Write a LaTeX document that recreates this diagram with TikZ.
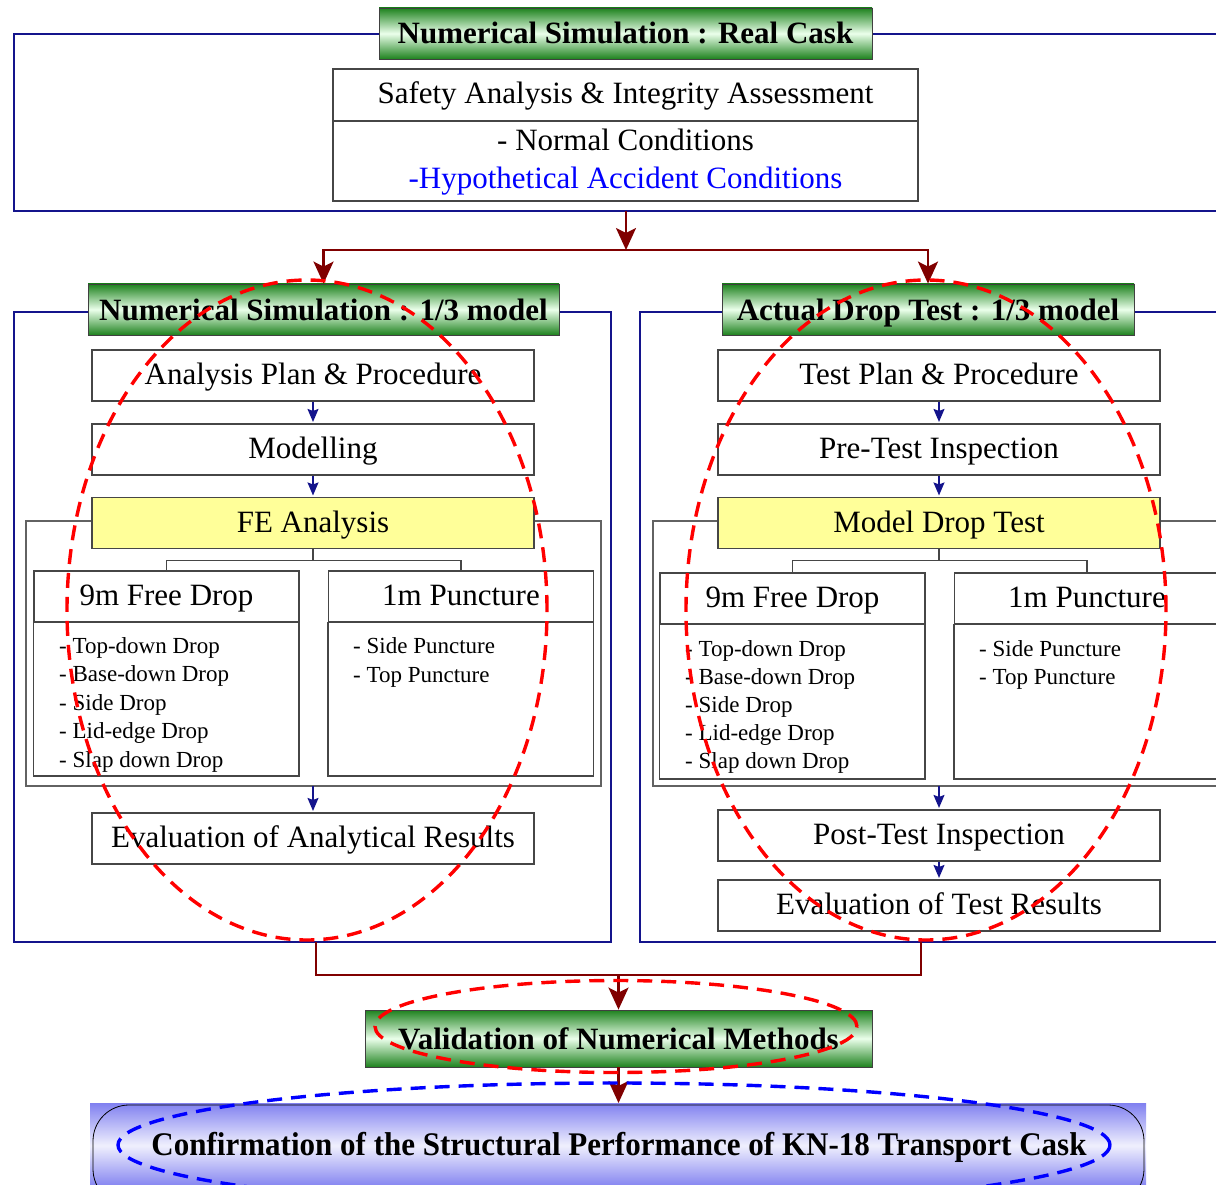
\documentclass[tikz,border=0pt]{standalone}
\usepackage{fontspec}
\usepackage{graphicx}
\setmainfont{Liberation Serif}
\usetikzlibrary{arrows.meta}
\definecolor{navy}{RGB}{20,20,140}
\definecolor{dred}{RGB}{128,0,0}
\definecolor{boxgray}{RGB}{70,70,70}
\definecolor{lyellow}{RGB}{255,255,153}
\definecolor{tgreen}{RGB}{30,130,30}
\definecolor{hblue}{RGB}{0,0,255}
\definecolor{bblue}{RGB}{128,128,240}
\definecolor{ered}{RGB}{255,0,0}
\definecolor{eblue}{RGB}{0,0,255}
\begin{document}
\begin{tikzpicture}[x=1pt,y=-1pt,
  frame/.style={draw=navy, line width=1.8pt},
  gtitle/.style={draw=black!75, line width=0.8pt, top color=tgreen, bottom color=tgreen, middle color=white!92!green,
     font=\bfseries\fontsize{31}{36}\selectfont, inner sep=0pt, minimum height=51pt, text height=21pt, text depth=0pt},
  gbox/.style={draw=boxgray, line width=1.1pt, fill=white, inner sep=0pt, minimum width=442pt, minimum height=51pt,
     font=\fontsize{31}{36}\selectfont, text height=21pt, text depth=3pt},
  ybox/.style={gbox, fill=lyellow},
  hbox/.style={gbox, minimum width=265pt},
  listbox/.style={draw=boxgray, line width=1.1pt, fill=white},
  cont/.style={draw=boxgray!85, line width=1.1pt},
  txt/.style={inner sep=0pt, font=\fontsize{31}{36}\selectfont},
  item/.style={anchor=base west, inner sep=0pt, font=\fontsize{23}{28}\selectfont},
  rline/.style={draw=dred, line width=2.6pt},
  rarrow/.style={rline, -{Stealth[length=22pt,width=20pt,inset=5pt]}},
  barrow/.style={draw=navy, line width=1.5pt, -{Stealth[length=13pt,width=11pt,inset=2pt]}, shorten >=1.5pt},
  tline/.style={draw=boxgray, line width=1.1pt},
  rdash/.style={draw=ered, line width=3.4pt, dash pattern=on 15pt off 9pt},
  bdash/.style={draw=eblue, line width=3.4pt, dash pattern=on 15pt off 9pt}
]
\useasboundingbox (0,0) rectangle (1216,1185);
\clip (0,0) rectangle (1216,1185);

% ---------- top section ----------
\draw[frame] (14,34) rectangle (1240,211);
\node[gtitle, minimum width=493pt] (ttitle) at (625.5,33.5) {Numerical Simulation : Real Cask};
\node[gbox, minimum width=585pt, minimum height=52pt] (safety) at (625.5,95) {Safety Analysis \& Integrity Assessment};
\node[listbox, inner sep=0pt, minimum width=585pt, minimum height=80pt] (cond) at (625.5,161) {};
\node[txt, anchor=base] (normal) at (625.5,151) {- Normal Conditions};
\node[txt, anchor=base, text=hblue] (hypo) at (625.5,188.5) {-Hypothetical Accident Conditions};

% ---------- frames ----------
\draw[frame] (14,312) rectangle (611,942);
\draw[frame] (640,312) rectangle (1240,942);
\node[gtitle, minimum width=471pt] (ltitle) at (323.5,309.5) {Numerical Simulation : 1/3 model};
\node[gtitle, minimum width=412pt] (rtitle) at (928,309.5) {Actual Drop Test : 1/3 model};

% ---------- left column ----------
\node[gbox] (plan) at (313,375.5) {Analysis Plan \& Procedure};
\node[gbox] (model) at (313,449.5) {Modelling};
\draw[cont] (26,521) rectangle (601,786);
\node[ybox] (fe) at (313,523) {FE Analysis};
\node[hbox] (lfree) at (166.5,596.5) {9m Free Drop};
\node[hbox] (lpunc) at (461,596.5) {1m Puncture};
\draw[listbox] (lfree.south west) rectangle (299,776);
\draw[listbox] (lpunc.south west) rectangle (593.5,776);
\foreach \t [count=\i from 0] in {Top-down Drop, Base-down Drop, Side Drop, Lid-edge Drop, Slap down Drop}
  \node[item] at (59,653.5+28.4*\i) {- \t};
\node[item] at (353,653.5) {- Side Puncture};
\node[item] at (353,682) {- Top Puncture};
\node[gbox] (leval) at (313,838.5) {Evaluation of Analytical Results};
\coordinate (lcb) at (313,786);

\draw[barrow] (plan.south) -- (model.north);
\draw[barrow] (model.south) -- (fe.north);
\draw[tline] (fe.south) -- ++(0,11.5) -| (lfree.north);
\draw[tline] (fe.south) ++(0,11.5) -| (lpunc.north);
\draw[barrow] (lcb) -- (leval.north);

% ---------- right column ----------
\node[gbox] (tplan) at (939,375.5) {Test Plan \& Procedure};
\node[gbox] (pre) at (939,449.5) {Pre-Test Inspection};
\draw[cont] (653,521) rectangle (1240,786);
\node[ybox] (mdt) at (939,523) {Model Drop Test};
\node[hbox] (rfree) at (792.5,598.5) {9m Free Drop};
\node[hbox] (rpunc) at (1087,598.5) {1m Puncture};
\draw[listbox] (rfree.south west) rectangle (925,779);
\draw[listbox] (rpunc.south west) rectangle (1220,779);
\foreach \t [count=\i from 0] in {Top-down Drop, Base-down Drop, Side Drop, Lid-edge Drop, Slap down Drop}
  \node[item] at (685,656+28.2*\i) {- \t};
\node[item] at (979,656) {- Side Puncture};
\node[item] at (979,684.5) {- Top Puncture};
\node[gbox] (post) at (939,835.5) {Post-Test Inspection};
\node[gbox] (teval) at (939,905.5) {Evaluation of Test Results};
\coordinate (rcb) at (939,786);

\draw[barrow] (tplan.south) -- (pre.north);
\draw[barrow] (pre.south) -- (mdt.north);
\draw[tline] (mdt.south) -- ++(0,11.5) -| (rfree.north);
\draw[tline] (mdt.south) ++(0,11.5) -| (rpunc.north);
\draw[barrow] (rcb) -- (post.north);
\draw[barrow] (post.south) -- (teval.north);

% ---------- red connectors ----------
\coordinate (tfb) at (626,211);
\coordinate (split) at (626,250);
\draw[rarrow] (tfb) -- (split);
\draw[rarrow] (split) -| (ltitle.north);
\draw[rarrow] (split) -| (rtitle.north);

\coordinate (lfb) at (316,942);
\coordinate (rfb) at (921,942);
\coordinate (merge) at (618.5,975);
\draw[rline] (lfb) |- (merge) -| (rfb);
\node[gtitle, minimum width=507pt, minimum height=57pt] (valid) at (618.5,1038.5) {Validation of Numerical Methods};
\draw[rarrow] (merge) -- (valid.north);

% ---------- bottom ----------
\shade[top color=bblue, bottom color=bblue, middle color=white!88!bblue] (90,1103) rectangle (1146,1188);
\draw[black, line width=0.8pt, rounded corners=36pt] (93,1105) rectangle (1144,1205);
\node[inner sep=0pt, anchor=base, font=\bfseries\fontsize{33}{38}\selectfont] (confirm) at (619,1155)
  {\scalebox{0.94}[1]{Confirmation of the Structural Performance of KN-18 Transport Cask}};
\coordinate (ctop) at (618.5,1103);
\draw[rarrow] (valid.south) -- (ctop);

% ---------- dashed ellipses ----------
\draw[rdash] (307,610) ellipse [x radius=240pt, y radius=330pt];
\draw[rdash] (926,610) ellipse [x radius=240pt, y radius=330pt];
\draw[rdash] (616,1026.5) ellipse [x radius=241pt, y radius=46pt];
\draw[bdash] (614,1145) ellipse [x radius=496pt, y radius=62pt];
\end{tikzpicture}
\end{document}
